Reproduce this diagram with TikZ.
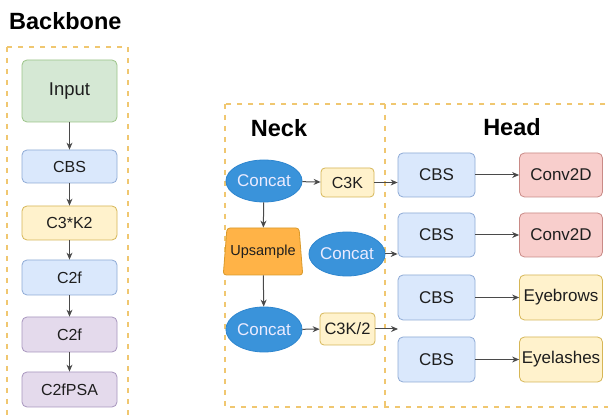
\documentclass[tikz,border=0pt]{standalone}
\usepackage{fontspec}
\setmainfont{Liberation Sans}
\usetikzlibrary{shapes.geometric,arrows.meta}
\definecolor{blueF}{HTML}{DAE8FC}\definecolor{blueD}{HTML}{8EAAD6}
\definecolor{yelF}{HTML}{FFF2CC}\definecolor{yelD}{HTML}{D6B656}
\definecolor{purF}{HTML}{E4DAEC}\definecolor{purD}{HTML}{A896BE}
\definecolor{redF}{HTML}{F8CECC}\definecolor{redD}{HTML}{C98A86}
\definecolor{grnF}{HTML}{D5E8D4}\definecolor{grnD}{HTML}{9CC489}
\definecolor{ellF}{HTML}{3A93DA}\definecolor{ellD}{HTML}{2E86CF}
\definecolor{upsF}{HTML}{FFB347}\definecolor{upsD}{HTML}{D99A2B}
\definecolor{dashC}{HTML}{F0C770}
\definecolor{arrC}{HTML}{4A4A4A}
\definecolor{txtC}{HTML}{1E1E1E}
\tikzset{
  box/.style={rectangle, rounded corners=5pt, line width=0.8pt, inner sep=0pt, text=txtC},
  bluebox/.style={box, fill=blueF, draw=blueD},
  yelbox/.style={box, fill=yelF, draw=yelD},
  purbox/.style={box, fill=purF, draw=purD},
  redbox/.style={box, fill=redF, draw=redD},
  grnbox/.style={box, fill=grnF, draw=grnD},
  bbsize/.style={minimum width=95pt, minimum height=34pt, font=\fontsize{16}{19}\selectfont},
  hdsize/.style={minimum height=44pt, font=\fontsize{17}{20}\selectfont},
  concat/.style={ellipse, fill=ellF, draw=ellD, line width=0.8pt, inner sep=0pt, text=white!92!blue, font=\fontsize{17}{20}\selectfont},
  title/.style={font=\fontsize{23.5}{26}\selectfont\bfseries, text=black, inner sep=0pt},
  arr/.style={draw=arrC, line width=1pt, -{Stealth[length=7pt,width=6pt]}},
  dashbox/.style={draw=dashC, line width=1.4pt, dash pattern=on 5pt off 6pt}
}
\begin{document}
\begin{tikzpicture}[x=1pt,y=-1pt]
\useasboundingbox (0,0) rectangle (608,419);
\clip (0,0) rectangle (608,419);
\fill[white] (0,0) rectangle (608,419);
% dashed frames
\draw[dashbox] (7,47) rectangle (128,440);
\draw[dashbox] (225,104) rectangle (640,407);
\draw[dashbox] (385,104) -- (385,407);
% titles
\node[title, anchor=west] (tbb) at (9,21) {Backbone};
\node[title] (tneck) at (279,128) {Neck};
\node[title] (thead) at (512,127) {Head};
% backbone
\node[grnbox, minimum width=95pt, minimum height=62pt, font=\fontsize{18.5}{21}\selectfont] (inp) at (69.5,91) {Input};
\node[bluebox, bbsize, minimum height=33pt] (b1) at (69.5,166.5) {CBS};
\node[yelbox, bbsize] (b2) at (69.5,223) {C3*K2};
\node[bluebox, bbsize, minimum height=35pt] (b3) at (69.5,277.5) {C2f};
\node[purbox, bbsize, minimum height=35pt] (b4) at (69.5,334.5) {C2f};
\node[purbox, bbsize, minimum height=35pt] (b5) at (69.5,389.5) {C2fPSA};
\draw[arr] (inp) -- (b1);
\draw[arr] (b1) -- (b2);
\draw[arr] (b2) -- (b3);
\draw[arr] (b3) -- (b4);
\draw[arr] (b4) -- (b5);
% neck
\node[concat, minimum width=74pt, minimum height=42pt] (c1) at (264,181) {Concat};
\node[yelbox, minimum width=53pt, minimum height=29pt, rounded corners=4pt, font=\fontsize{16}{19}\selectfont] (c3k) at (347.5,182.5) {C3K};
\node[trapezium, trapezium angle=76, trapezium stretches=true, minimum width=80pt, minimum height=47pt, inner sep=0pt, rounded corners=3pt, fill=upsF, draw=upsD, line width=0.8pt, text=txtC, font=\fontsize{14.5}{17}\selectfont] (ups) at (263,251.5) {Upsample};
\node[concat, minimum width=70pt, minimum height=44pt] (c2) at (347,254) {Concat};
\node[concat, minimum width=74pt, minimum height=45pt] (c3) at (264,329.5) {Concat};
\node[yelbox, minimum width=55pt, minimum height=32pt, rounded corners=4pt, font=\fontsize{16.5}{19}\selectfont] (c3k2) at (347.5,329) {C3K/2};
\coordinate (c3k2end) at (398,329);
% head
\node[bluebox, hdsize, minimum width=77pt] (h1) at (436.5,175) {CBS};
\node[bluebox, hdsize, minimum width=77pt] (h2) at (436.5,235) {CBS};
\node[bluebox, hdsize, minimum width=77pt, minimum height=45pt] (h3) at (436.5,297.5) {CBS};
\node[bluebox, hdsize, minimum width=77pt, minimum height=45pt] (h4) at (436.5,359.5) {CBS};
\node[redbox, hdsize, minimum width=83pt] (o1) at (561,175) {Conv2D};
\node[redbox, hdsize, minimum width=83pt] (o2) at (561,235) {Conv2D};
\node[yelbox, hdsize, minimum width=83pt, minimum height=45pt] (o3) at (561,297.5) {Eyebrows};
\node[yelbox, hdsize, minimum width=83pt, minimum height=45pt] (o4) at (561,359.5) {Eyelashes};
% neck connectors
\draw[arr] (c1) -- (c3k);
\draw[arr] (c1) -- (ups);
\draw[arr] (ups) -- (c3);
\draw[arr] (c3) -- (c3k2);
\draw[arr] (c3k.east) -- (c3k.east -| h1.west);
\draw[arr] (c2.east) -- (c2.east -| h2.west);
\draw[arr] (c3k2.east) -- (c3k2end);
% head connectors
\draw[arr] (h1) -- (o1);
\draw[arr] (h2) -- (o2);
\draw[arr] (h3) -- (o3);
\draw[arr] (h4) -- (o4);
\end{tikzpicture}
\end{document}
